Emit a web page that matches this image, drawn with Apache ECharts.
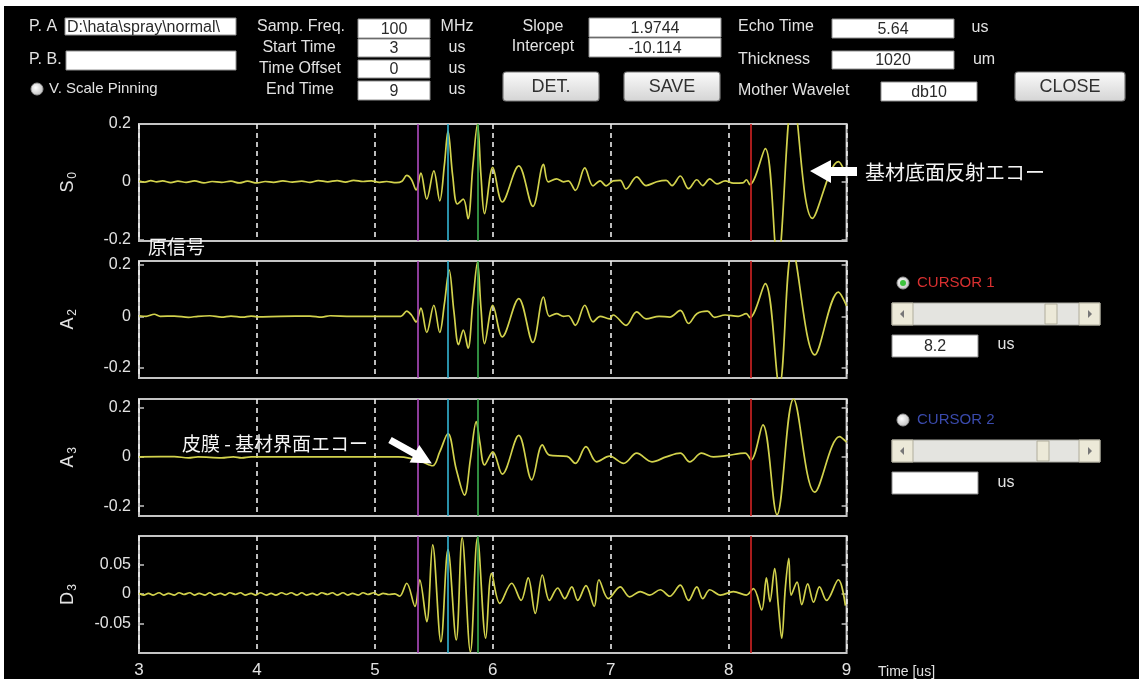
<!DOCTYPE html>
<html><head><meta charset="utf-8">
<script src="https://cdn.jsdelivr.net/npm/echarts@6/dist/echarts.min.js"></script>
<style>html,body{margin:0;padding:0;background:#fff}#c{width:1139px;height:679px}</style>
</head><body><div id="c"></div>
<script>
// ---------- data (time in us, amplitude) ----------
const xTicks = [3, 4, 5, 6, 7, 8, 9];
const yTicksA = [-0.2, 0, 0.2];
const yTicksD = [-0.05, 0, 0.05];
const cursorTimes = [5.36, 5.62, 5.87, 8.19];
const cursorColors = ['#b04cc0', '#34b4d4', '#3cb050', '#d42424'];

const s0 = [[3.00,0.002],[3.05,-0.001],[3.10,0.004],[3.15,0.000],[3.20,0.003],[3.27,-0.003],[3.33,0.002],[3.40,-0.002],[3.47,0.003],[3.55,-0.004],[3.62,0.001],[3.70,-0.002],[3.78,0.002],[3.85,-0.004],[3.92,0.002],[4.00,-0.004],[4.07,0.001],[4.14,-0.002],[4.22,0.003],[4.30,-0.001],[4.38,0.002],[4.45,-0.002],[4.52,0.004],[4.60,0.000],[4.68,0.004],[4.75,-0.001],[4.82,0.005],[4.90,0.001],[4.97,0.003],[5.04,-0.002],[5.10,0.001],[5.18,-0.003],[5.23,0.002],
 [5.27,0.022],[5.31,0.008],[5.35,-0.028],[5.39,0.030],[5.44,-0.060],[5.50,0.038],[5.55,-0.066],[5.59,0.060],[5.62,0.175],[5.66,0.020],[5.70,-0.077],[5.75,-0.060],[5.79,-0.128],[5.83,0.050],[5.87,0.200],[5.90,0.020],[5.93,-0.110],[6.00,0.050],[6.08,-0.070],[6.22,0.055],[6.34,-0.085],[6.43,0.060],[6.47,0.000],[6.54,0.010],[6.60,0.000],[6.64,0.003],[6.70,-0.030],[6.78,0.048],[6.85,-0.014],[6.91,0.003],[6.96,-0.014],[7.02,0.003],[7.08,0.005],[7.13,-0.025],[7.22,0.017],[7.30,-0.013],[7.39,0.000],[7.47,0.005],[7.52,-0.013],[7.59,0.020],[7.66,-0.024],[7.73,0.007],[7.78,-0.013],[7.84,0.010],[7.90,-0.007],[7.97,0.003],[8.04,-0.005],[8.12,-0.004],[8.15,0.007],[8.18,-0.010],[8.31,0.115],[8.415,-0.280],[8.545,0.300],[8.71,-0.127],[8.93,0.070],[9.00,0.020]];

const a2 = [[3.00,0.002],[3.06,0.000],[3.13,0.008],[3.18,0.000],[3.30,0.001],[3.42,-0.004],[3.50,0.000],[3.60,0.002],[3.70,-0.003],[3.78,0.001],[3.88,-0.003],[3.95,0.001],[4.00,-0.002],[4.20,0.000],[4.45,0.001],[4.55,-0.003],[4.62,0.002],[4.80,0.000],[5.00,0.000],[5.22,0.000],
 [5.27,0.020],[5.31,0.005],[5.35,-0.022],[5.39,0.032],[5.44,-0.063],[5.50,0.043],[5.55,-0.063],[5.59,0.050],[5.63,0.180],[5.67,0.020],[5.71,-0.110],[5.75,-0.054],[5.79,-0.124],[5.83,0.050],[5.87,0.210],[5.90,0.030],[5.93,-0.106],[6.00,0.043],[6.08,-0.080],[6.22,0.069],[6.34,-0.102],[6.43,0.075],[6.48,0.000],[6.54,0.010],[6.60,0.000],[6.64,0.002],[6.70,-0.035],[6.78,0.043],[6.85,-0.022],[6.91,0.000],[6.99,-0.010],[7.02,0.005],[7.13,-0.035],[7.22,0.017],[7.30,-0.010],[7.41,0.000],[7.50,-0.003],[7.59,0.023],[7.66,-0.028],[7.73,0.010],[7.82,0.020],[7.88,-0.004],[7.97,0.005],[8.08,0.000],[8.15,0.010],[8.18,-0.005],[8.31,0.127],[8.43,-0.270],[8.54,0.260],[8.73,-0.150],[8.93,0.094],[9.00,0.040]];

const a3 = [[3.00,0.000],[3.30,0.001],[3.42,-0.004],[3.50,0.000],[3.70,-0.004],[3.80,0.000],[3.87,-0.004],[3.95,0.000],[4.20,0.000],[4.60,0.000],[5.00,0.000],[5.20,0.000],[5.30,-0.006],[5.40,-0.020],[5.49,-0.036],[5.55,0.020],[5.62,0.095],[5.69,-0.050],[5.76,-0.155],[5.81,-0.010],[5.86,0.143],[5.89,0.060],[5.93,-0.033],[6.00,0.020],[6.08,-0.070],[6.22,0.087],[6.33,-0.093],[6.42,0.049],[6.48,0.007],[6.63,0.002],[6.70,-0.026],[6.79,0.042],[6.88,-0.020],[6.99,0.003],[7.11,-0.026],[7.22,0.015],[7.35,-0.020],[7.47,0.000],[7.59,0.015],[7.67,-0.020],[7.77,0.015],[7.87,0.000],[7.98,0.005],[8.14,0.015],[8.19,-0.012],[8.29,0.130],[8.41,-0.235],[8.55,0.235],[8.73,-0.143],[8.94,0.082],[9.00,0.060]];

const d3 = [[3.00,0.001],[3.04,-0.002],[3.08,0.001],[3.12,-0.002],[3.17,0.002],[3.21,-0.002],[3.25,0.001],[3.30,-0.002],[3.34,0.002],[3.38,-0.001],[3.43,0.002],[3.47,-0.002],[3.51,0.001],[3.56,-0.002],[3.60,0.002],[3.64,-0.002],[3.69,0.001],[3.73,-0.002],[3.77,0.002],[3.82,-0.001],[3.86,0.002],[3.90,-0.002],[3.95,0.001],[3.99,-0.002],[4.03,0.002],[4.08,-0.002],[4.12,0.001],[4.16,-0.002],[4.21,0.002],[4.25,-0.001],[4.29,0.002],[4.34,-0.002],[4.38,0.002],[4.42,-0.002],[4.47,0.001],[4.51,-0.002],[4.55,0.002],[4.60,-0.001],[4.64,0.002],[4.68,-0.002],[4.73,0.002],[4.77,-0.002],[4.81,0.001],[4.86,-0.002],[4.90,0.002],[4.94,-0.001],[4.99,0.002],[5.03,-0.002],[5.07,0.001],[5.12,-0.001],[5.17,0.000],
 [5.21,-0.004],[5.27,0.018],[5.34,-0.021],[5.38,0.024],[5.44,-0.047],[5.49,0.083],[5.56,-0.081],[5.62,0.075],[5.69,-0.078],[5.74,0.095],[5.81,-0.098],[5.87,0.095],[5.94,-0.075],[5.99,0.035],[6.06,-0.016],[6.16,0.018],[6.24,-0.011],[6.30,0.027],[6.36,-0.033],[6.42,0.032],[6.48,-0.011],[6.55,0.010],[6.61,-0.008],[6.67,0.012],[6.72,-0.011],[6.79,0.014],[6.86,-0.021],[6.90,0.024],[6.98,-0.008],[7.08,0.012],[7.16,-0.005],[7.25,0.004],[7.33,-0.002],[7.42,0.007],[7.50,-0.004],[7.59,0.015],[7.66,-0.011],[7.73,0.012],[7.78,-0.008],[7.84,0.007],[7.93,-0.002],[8.04,0.004],[8.15,-0.002],[8.21,0.009],[8.28,-0.027],[8.32,0.027],[8.35,-0.013],[8.39,0.043],[8.42,-0.018],[8.45,-0.075],[8.48,0.009],[8.51,0.060],[8.53,-0.002],[8.58,0.020],[8.62,-0.018],[8.67,0.017],[8.72,-0.014],[8.77,0.012],[8.83,-0.011],[8.93,0.024],[8.99,-0.020]];

const panelSeries = [s0, a2, a3, d3];
const panelLetters = ['S', 'A', 'A', 'D'];
const panelSubs = ['0', '2', '3', '3'];
const panelTicks = [yTicksA, yTicksA, yTicksA, yTicksD];
const panelRanges = [[-0.205, 0.2], [-0.24, 0.215], [-0.24, 0.235], [-0.1, 0.098]];

// ---------- layout ----------
const gridTops = [124, 261, 399, 536];
const gridH = 117, gridL = 139, gridW = 707.6;
const FONT = '"Liberation Sans", Arial, sans-serif';
const JP = '"Noto Sans CJK JP", sans-serif';
const TXT = '#e2e2e2';
const LINE = '#d2d24c';

const grids = [], xAxes = [], yAxes = [], series = [], nameGraphics = [];
for (let i = 0; i < 4; i++) {
  grids.push({left: gridL, top: gridTops[i], width: gridW, height: gridH, show: true,
    borderColor: '#c4c4c4', borderWidth: 2, backgroundColor: 'transparent'});
  xAxes.push({type: 'value', gridIndex: i, min: 3, max: 9, interval: 1,
    axisLine: {show: false}, axisTick: {show: false},
    axisLabel: {show: i === 3, color: TXT, fontSize: 17, fontFamily: FONT, margin: 9},
    splitLine: {show: true, lineStyle: {color: '#ececec', width: 1.6, type: [5, 4]}}});
  const tks = panelTicks[i];
  yAxes.push({type: 'value', gridIndex: i, position: 'left', min: panelRanges[i][0], max: panelRanges[i][1],
    axisLine: {show: false}, splitLine: {show: false},
    axisTick: {show: true, inside: true, length: 5, customValues: tks, lineStyle: {color: '#c4c4c4', width: 1.5}},
    axisLabel: {show: true, customValues: tks, color: TXT, fontSize: 16, fontFamily: FONT, margin: 8,
      formatter: v => (Math.abs(v) < 1e-9 ? '0' : String(+v.toFixed(3)))}});
  yAxes.push({type: 'value', gridIndex: i, position: 'right', min: panelRanges[i][0], max: panelRanges[i][1],
    axisLine: {show: false}, splitLine: {show: false}, axisLabel: {show: false, customValues: tks},
    axisTick: {show: true, inside: true, length: 5, customValues: tks, lineStyle: {color: '#c4c4c4', width: 1.5}}});
  series.push({type: 'line', xAxisIndex: i, yAxisIndex: 2 * i, data: panelSeries[i],
    showSymbol: false, smooth: 0.35, clip: true, silent: true, animation: false,
    lineStyle: {color: LINE, width: 1.7}, z: 3,
    markLine: {silent: true, symbol: 'none', label: {show: false}, animation: false,
      data: cursorTimes.map((t, k) => ({xAxis: t, lineStyle: {color: cursorColors[k], width: 1.6, type: 'solid'}}))}});
  // rotated y-axis title with subscript (e.g. S_0)
  const cy = gridTops[i] + gridH / 2;
  nameGraphics.push({type: 'group', x: 68, y: cy + 4, rotation: Math.PI / 2, silent: true, children: [
    {type: 'text', x: 0, y: 0, style: {text: panelLetters[i], fill: TXT, fontSize: 18, fontFamily: FONT, align: 'center', verticalAlign: 'middle'}},
    {type: 'text', x: 11, y: 5, style: {text: panelSubs[i], fill: TXT, fontSize: 12, fontFamily: FONT, align: 'center', verticalAlign: 'middle'}}]});
}

// ---------- UI helpers ----------
function T(x, y, text, o) {
  return {type: 'text', x: x, y: y, silent: true, z: 10,
    style: Object.assign({text: text, fill: TXT, fontSize: 16, fontFamily: FONT, align: 'left', verticalAlign: 'middle'}, o || {})};
}
function Box(x, y, w, h, text, align) {
  const el = [{type: 'rect', silent: true, z: 10, shape: {x: x, y: y, width: w, height: h},
    style: {fill: '#ffffff', stroke: '#8f8f8f', lineWidth: 1}}];
  if (text) el.push({type: 'text', silent: true, z: 11, x: align === 'left' ? x + 2 : x + w / 2, y: y + h / 2 + 1,
    style: {text: text, fill: '#2a2a2a', fontSize: 16, fontFamily: FONT, align: align || 'center', verticalAlign: 'middle'}});
  return el;
}
function Btn(x, y, w, h, text) {
  return [{type: 'rect', silent: true, z: 10, shape: {x: x, y: y, width: w, height: h, r: 3},
      style: {fill: new echarts.graphic.LinearGradient(0, 0, 0, 1, [{offset: 0, color: '#fbfbfb'}, {offset: 1, color: '#d4d4d4'}]), stroke: '#7a7a7a', lineWidth: 1.2}},
    {type: 'text', silent: true, z: 11, x: x + w / 2, y: y + h / 2 + 1,
      style: {text: text, fill: '#303030', fontSize: 18, fontFamily: FONT, align: 'center', verticalAlign: 'middle'}}];
}
function Radio(cx, cy, checked) {
  const el = [{type: 'circle', silent: true, z: 10, shape: {cx: cx, cy: cy, r: 6},
    style: {fill: new echarts.graphic.RadialGradient(0.4, 0.4, 0.7, [{offset: 0, color: '#ffffff'}, {offset: 1, color: '#b8b8b8'}]), stroke: '#9a9a9a', lineWidth: 1}}];
  if (checked) el.push({type: 'circle', silent: true, z: 11, shape: {cx: cx, cy: cy, r: 3}, style: {fill: '#3cc23c'}});
  return el;
}
function Slider(x, y, w, h, thumbX) {
  const a = 21;
  return [
    {type: 'rect', silent: true, z: 10, shape: {x: x, y: y, width: w, height: h}, style: {fill: '#e4e4e0', stroke: '#a8a8a0', lineWidth: 1}},
    {type: 'rect', silent: true, z: 11, shape: {x: x, y: y, width: a, height: h}, style: {fill: '#ece9d8', stroke: '#b0ad9c', lineWidth: 1}},
    {type: 'rect', silent: true, z: 11, shape: {x: x + w - a, y: y, width: a, height: h}, style: {fill: '#ece9d8', stroke: '#b0ad9c', lineWidth: 1}},
    {type: 'polygon', silent: true, z: 12, shape: {points: [[x + 8, y + h / 2], [x + 12, y + h / 2 - 4], [x + 12, y + h / 2 + 4]]}, style: {fill: '#777'}},
    {type: 'polygon', silent: true, z: 12, shape: {points: [[x + w - 8, y + h / 2], [x + w - 12, y + h / 2 - 4], [x + w - 12, y + h / 2 + 4]]}, style: {fill: '#777'}},
    {type: 'rect', silent: true, z: 11, shape: {x: thumbX, y: y + 1, width: 12, height: h - 2}, style: {fill: '#ece9d8', stroke: '#b0ad9c', lineWidth: 1}}
  ];
}

const graphics = [].concat(
  [{type: 'rect', silent: true, z: 20, shape: {x: 0, y: 0, width: 1139, height: 6}, style: {fill: '#fff'}},
   {type: 'rect', silent: true, z: 20, shape: {x: 0, y: 0, width: 4, height: 679}, style: {fill: '#fff'}}],
  nameGraphics,
  [T(29, 27, 'P. A'), T(29, 60, 'P. B.')],
  Box(65, 18, 171, 17, 'D:\\hata\\spray\\normal\\', 'left'),
  Box(66, 51, 170, 19, ''),
  Radio(37, 89, false), [T(49, 89, 'V. Scale Pinning', {fontSize: 15})],
  [T(301, 27, 'Samp. Freq.', {align: 'center'}), T(299, 48, 'Start Time', {align: 'center'}),
   T(300, 69, 'Time Offset', {align: 'center'}), T(300, 90, 'End Time', {align: 'center'})],
  Box(358, 19, 72, 19, '100'), Box(358, 39, 72, 18, '3'), Box(358, 60, 72, 18, '0'), Box(358, 81, 72, 19, '9'),
  [T(457, 27, 'MHz', {align: 'center'}), T(457, 48, 'us', {align: 'center'}), T(457, 69, 'us', {align: 'center'}), T(457, 90, 'us', {align: 'center'})],
  [T(543, 27, 'Slope', {align: 'center'}), T(543, 47, 'Intercept', {align: 'center'})],
  Box(589, 18, 132, 19, '1.9744'), Box(589, 38, 132, 19, '-10.114'),
  Btn(503, 72, 96, 29, 'DET.'), Btn(624, 72, 96, 29, 'SAVE'),
  [T(738, 27, 'Echo Time'), T(738, 60, 'Thickness'), T(738, 91, 'Mother Wavelet')],
  Box(832, 19, 122, 19, '5.64'), Box(832, 51, 122, 18, '1020'), Box(881, 82, 96, 19, 'db10'),
  [T(980, 28, 'us', {align: 'center'}), T(984, 60, 'um', {align: 'center'})],
  Btn(1015, 72, 110, 29, 'CLOSE'),
  // right-hand cursor controls
  Radio(903, 283, true), [T(917, 283, 'CURSOR 1', {fill: '#d83030', fontSize: 15})],
  Slider(892, 303, 208, 22, 1045),
  Box(892, 335, 86, 22, '8.2'), [T(1006, 345, 'us', {align: 'center'})],
  Radio(903, 420, false), [T(917, 420, 'CURSOR 2', {fill: '#3a4aac', fontSize: 15})],
  Slider(892, 440, 208, 22, 1037),
  Box(892, 472, 86, 22, ''), [T(1006, 483, 'us', {align: 'center'})],
  // x-axis title
  [T(878, 672, 'Time [us]', {fontSize: 14})],
  // annotations
  [T(865, 172, '基材底面反射エコー', {fontFamily: JP, fontSize: 20, fill: '#f4f4f4'}),
   {type: 'polygon', silent: true, z: 12, shape: {points: [[810, 171], [831, 160], [831, 167], [857, 167], [857, 176], [831, 176], [831, 183]]}, style: {fill: '#ffffff'}},
   T(148, 247, '原信号', {fontFamily: JP, fontSize: 19, fill: '#f4f4f4'}),
   T(182, 444, '皮膜 - 基材界面エコー', {fontFamily: JP, fontSize: 19, fill: '#f4f4f4'}),
   {type: 'polygon', silent: true, z: 12, x: 390, y: 440, rotation: -0.51,
    shape: {points: [[0, -3.5], [28, -3.5], [28, -10], [48, 0], [28, 10], [28, 3.5], [0, 3.5]]}, style: {fill: '#ffffff'}}]
);

const chart = echarts.init(document.getElementById('c'), null, {renderer: 'canvas'});
chart.setOption({
  backgroundColor: '#000000',
  animation: false,
  grid: grids, xAxis: xAxes, yAxis: yAxes, series: series,
  graphic: graphics
});
</script></body></html>
